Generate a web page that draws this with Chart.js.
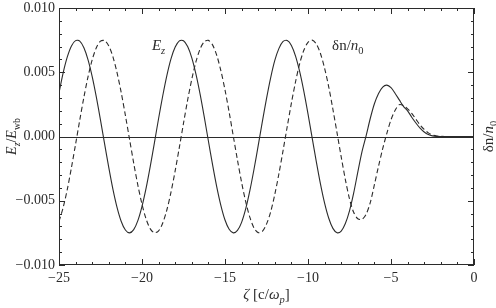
<!DOCTYPE html>
<html>
<head>
<meta charset="utf-8">
<script src="https://cdn.jsdelivr.net/npm/chart.js@4.4.1/dist/chart.umd.min.js"></script>
<style>
  body { margin: 0; background: #fff; }
  #wrap { width: 496px; height: 308px; }
</style>
</head>
<body>
<div id="wrap"><canvas id="waveChart" width="496" height="308"></canvas></div>
<script>
// positions along the bunch, in c/omega_p
const zeta = [
  -25, -24.75, -24.5, -24.25, -24, -23.75, -23.5, -23.25, -23, -22.75,
  -22.5, -22.25, -22, -21.75, -21.5, -21.25, -21, -20.75, -20.5, -20.25,
  -20, -19.75, -19.5, -19.25, -19, -18.75, -18.5, -18.25, -18, -17.75,
  -17.5, -17.25, -17, -16.75, -16.5, -16.25, -16, -15.75, -15.5, -15.25,
  -15, -14.75, -14.5, -14.25, -14, -13.75, -13.5, -13.25, -13, -12.75,
  -12.5, -12.25, -12, -11.75, -11.5, -11.25, -11, -10.75, -10.5, -10.25,
  -10, -9.75, -9.5, -9.25, -9, -8.75, -8.5, -8.25, -8, -7.75,
  -7.5, -7.25, -7, -6.75, -6.5, -6.25, -6, -5.75, -5.5, -5.25,
  -5, -4.75, -4.5, -4.25, -4, -3.75, -3.5, -3.25, -3, -2.75,
  -2.5, -2.25, -2, -1.75, -1.5, -1.25, -1, -0.75, -0.5, -0.25, 0
];

// E_z / E_wb, in units of 1e-3
const ezMilli = [
  3.40, 4.95, 6.19, 7.05, 7.46, 7.42, 6.91, 5.97, 4.66, 3.06,
  1.27, -0.59, -2.42, -4.11, -5.53, -6.61, -7.28, -7.50, -7.25, -6.55,
  -5.44, -4.00, -2.30, -0.47, 1.40, 3.17, 4.76, 6.06, 6.96, 7.44,
  7.45, 7.00, 6.12, 4.85, 3.29, 1.52, -0.35, -2.19, -3.90, -5.36,
  -6.50, -7.22, -7.50, -7.31, -6.68, -5.62, -4.20, -2.53, -0.71, 1.16,
  2.95, 4.57, 5.92, 6.86, 7.40, 7.47, 7.09, 6.26, 5.04, 3.51,
  1.76, -0.10, -1.95, -3.68, -5.18, -6.36, -7.15, -7.49, -7.36, -6.77,
  -5.78, -4.41, -2.77, -1.20, 0.05, 1.40, 2.55, 3.35, 3.85, 4.00,
  3.80, 3.35, 2.85, 2.35, 2.00, 1.50, 1.05, 0.65, 0.35, 0.15,
  0.05, 0.01, 0, 0, 0, 0, 0, 0, 0, 0, 0
];

// density perturbation dn/n0, in units of 1e-3
const dnMilli = [
  -6.61, -5.53, -4.11, -2.42, -0.59, 1.27, 3.06, 4.66, 5.97, 6.91,
  7.42, 7.46, 7.05, 6.19, 4.95, 3.40, 1.64, -0.22, -2.07, -3.79,
  -5.27, -6.43, -7.19, -7.49, -7.34, -6.73, -5.70, -4.31, -2.66, -0.84,
  1.03, 2.84, 4.46, 5.82, 6.81, 7.37, 7.48, 7.13, 6.33, 5.13,
  3.63, 1.89, 0.03, -1.83, -3.57, -5.09, -6.30, -7.12, -7.48, -7.39,
  -6.82, -5.87, -4.51, -2.88, -1.08, 0.78, 2.60, 4.26, 5.68, 6.71,
  7.33, 7.50, 7.20, 6.46, 5.31, 3.85, 2.12, 0.28, -1.58, -3.35,
  -4.85, -5.90, -6.40, -6.45, -6.05, -5.15, -3.75, -2.30, -0.95, 0.25,
  1.30, 2.05, 2.48, 2.40, 2.15, 1.80, 1.35, 0.90, 0.55, 0.28,
  0.12, 0.04, 0.01, 0, 0, 0, 0, 0, 0, 0, 0
];

const xTicks = [-25, -20, -15, -10, -5, 0];
const yTicks = [-0.010, -0.005, 0.000, 0.005, 0.010];

const SERIF = '"Liberation Serif", "DejaVu Serif", serif';
const INK = '#2b2b2b';

function minus(s) {
  return s.replace('-', '\u2212');
}

// draw a run of text pieces: {t, it, sub}
function richWidth(ctx, parts, size) {
  let w = 0;
  parts.forEach(p => {
    const fs = p.sub ? size * 0.7 : size;
    ctx.font = (p.it ? 'italic ' : '') + fs + 'px ' + SERIF;
    w += ctx.measureText(p.t).width;
  });
  return w;
}

function richText(ctx, parts, x, y, size) {
  let cx = x;
  parts.forEach(p => {
    const fs = p.sub ? size * 0.7 : size;
    ctx.font = (p.it ? 'italic ' : '') + fs + 'px ' + SERIF;
    ctx.fillText(p.t, cx, p.sub ? y + size * 0.25 : y);
    cx += ctx.measureText(p.t).width;
  });
}

const framePlugin = {
  id: 'frame',
  afterDraw(chart) {
    const ctx = chart.ctx;
    const a = chart.chartArea;
    const xs = chart.scales.x;
    const ys = chart.scales.y;
    ctx.save();
    ctx.strokeStyle = INK;
    ctx.lineWidth = 1;

    // box
    ctx.strokeRect(a.left + 0.5, a.top + 0.5, a.right - a.left - 1, a.bottom - a.top - 1);

    // zero line
    const y0 = Math.round(ys.getPixelForValue(0)) + 0.5;
    ctx.beginPath();
    ctx.moveTo(a.left, y0);
    ctx.lineTo(a.right, y0);
    ctx.stroke();

    // inward ticks on all sides
    ctx.beginPath();
    for (let v = -25; v <= 0; v++) {
      const px = Math.round(xs.getPixelForValue(v)) + 0.5;
      const len = v % 5 === 0 ? 6 : 3;
      ctx.moveTo(px, a.bottom); ctx.lineTo(px, a.bottom - len);
      ctx.moveTo(px, a.top); ctx.lineTo(px, a.top + len);
    }
    for (let k = -10; k <= 10; k++) {
      const py = Math.round(ys.getPixelForValue(k / 1000)) + 0.5;
      const len = k % 5 === 0 ? 6 : 3;
      ctx.moveTo(a.left, py); ctx.lineTo(a.left + len, py);
      ctx.moveTo(a.right, py); ctx.lineTo(a.right - len, py);
    }
    ctx.stroke();

    ctx.fillStyle = INK;
    ctx.textBaseline = 'alphabetic';

    // x title
    const xt = [{ t: '\u03B6', it: true }, { t: ' [c/' }, { t: '\u03C9', it: true }, { t: 'p', it: true, sub: true }, { t: ']' }];
    const xw = richWidth(ctx, xt, 15);
    richText(ctx, xt, (a.left + a.right) / 2 - xw / 2, 299, 15);

    // left title
    const lt = [{ t: 'E', it: true }, { t: 'z', it: true, sub: true }, { t: '/' }, { t: 'E', it: true }, { t: 'wb', sub: true }];
    const lw = richWidth(ctx, lt, 14);
    ctx.save();
    ctx.translate(16, (a.top + a.bottom) / 2);
    ctx.rotate(-Math.PI / 2);
    richText(ctx, lt, -lw / 2, 0, 14);
    ctx.restore();

    // right title
    const rt = [{ t: '\u03B4n/' }, { t: 'n', it: true }, { t: '0', sub: true }];
    const rw = richWidth(ctx, rt, 15);
    ctx.save();
    ctx.translate(493, (a.top + a.bottom) / 2);
    ctx.rotate(-Math.PI / 2);
    richText(ctx, rt, -rw / 2, 0, 15);
    ctx.restore();

    // curve labels
    richText(ctx, [{ t: 'E', it: true }, { t: 'z', it: true, sub: true }],
      xs.getPixelForValue(-19.4), ys.getPixelForValue(0.00675), 15);
    richText(ctx, [{ t: '\u03B4n/' }, { t: 'n', it: true }, { t: '0', sub: true }],
      xs.getPixelForValue(-8.55), ys.getPixelForValue(0.00675), 15);

    ctx.restore();
  }
};

new Chart(document.getElementById('waveChart').getContext('2d'), {
  type: 'line',
  data: {
    datasets: [{
      label: 'Ez',
      data: zeta.map((z, i) => ({ x: z, y: ezMilli[i] / 1000 })),
      borderColor: INK,
      borderWidth: 1.1,
      pointRadius: 0,
      tension: 0.3,
      fill: false
    }, {
      label: 'dn',
      data: zeta.map((z, i) => ({ x: z, y: dnMilli[i] / 1000 })),
      borderColor: INK,
      borderWidth: 1.1,
      borderDash: [5, 3],
      pointRadius: 0,
      tension: 0.3,
      fill: false
    }]
  },
  options: {
    responsive: false,
    animation: false,
    devicePixelRatio: 1,
    layout: { padding: { left: 0, right: 22, top: 8, bottom: 0 } },
    plugins: {
      legend: { display: false },
      tooltip: { enabled: false }
    },
    scales: {
      x: {
        type: 'linear',
        min: -25,
        max: 0,
        grid: { display: false, drawTicks: false },
        border: { display: false },
        afterBuildTicks: s => { s.ticks = xTicks.map(v => ({ value: v })); },
        afterFit: s => { s.height = 43; s.paddingLeft = 0; s.paddingRight = 0; },
        ticks: {
          padding: 5,
          color: INK,
          maxRotation: 0,
          font: { family: SERIF, size: 14 },
          callback: v => minus(String(v))
        }
      },
      y: {
        min: -0.01,
        max: 0.01,
        grid: { display: false, drawTicks: false },
        border: { display: false },
        afterBuildTicks: s => { s.ticks = yTicks.map(v => ({ value: v })); },
        afterFit: s => { s.width = 59; s.paddingTop = 0; s.paddingBottom = 0; },
        ticks: {
          padding: 4,
          color: INK,
          font: { family: SERIF, size: 14 },
          callback: v => minus(Number(v).toFixed(3))
        }
      }
    }
  },
  plugins: [framePlugin]
});
</script>
</body>
</html>
